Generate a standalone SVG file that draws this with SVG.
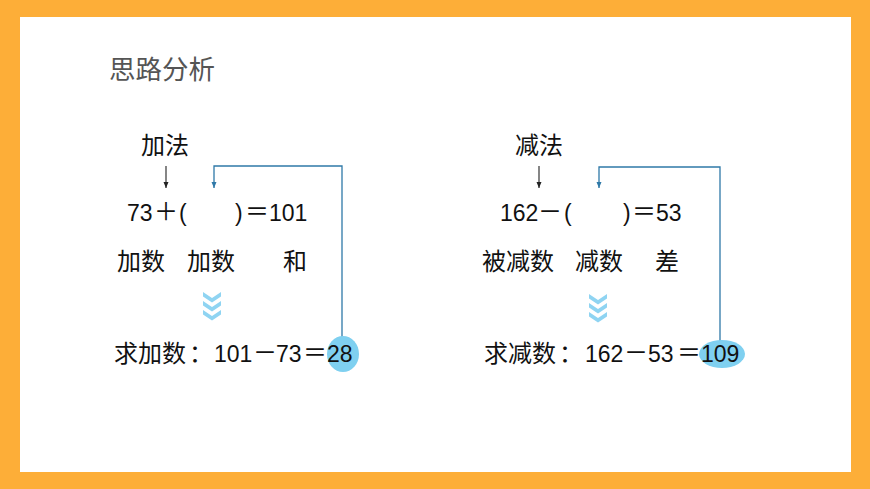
<svg xmlns="http://www.w3.org/2000/svg" width="870" height="489" viewBox="0 0 870 489">
<style>
.cjk{font-family:"Noto Sans CJK SC","Noto Sans",sans-serif;font-size:24px;fill:#111}
.num{font-family:"Liberation Sans",Arial,sans-serif;font-size:23px;fill:#111}
.title{font-family:"Noto Sans CJK SC",sans-serif;font-size:26.5px;fill:#555}
.link{fill:none;stroke:#2f79a8;stroke-width:1.3}
.dn{fill:none;stroke:#222;stroke-width:1.1}
.chev{fill:#8fd4f2}
</style>
<defs>
<marker id="ah" markerWidth="8" markerHeight="8" refX="7" refY="4" orient="auto" markerUnits="userSpaceOnUse" viewBox="0 0 8 8">
<path d="M1,1.5 L7,4 L1,6.5 Z" fill="#2f79a8"/>
</marker>
<marker id="ak" markerWidth="8" markerHeight="8" refX="7" refY="4" orient="auto" markerUnits="userSpaceOnUse" viewBox="0 0 8 8">
<path d="M1,1.5 L7,4 L1,6.5 Z" fill="#222"/>
</marker>
</defs>
<rect x="0" y="0" width="870" height="489" fill="#FDAE38"/>
<rect x="20" y="17" width="831" height="455" fill="#fff"/>
<text class="title" x="109" y="79">思路分析</text>

<g id="connectors">
<path class="link" d="M342,337 V166 H214 V188" marker-end="url(#ah)"/>
<path class="link" d="M720,341 V167 H599 V188" marker-end="url(#ah)"/>
<path class="dn" d="M166,166 V188" marker-end="url(#ak)"/>
<path class="dn" d="M539,166 V188" marker-end="url(#ak)"/>
</g>

<g id="addition">
<text class="cjk" x="141" y="154">加法</text>
<text class="num" y="221"><tspan x="127">73</tspan><tspan x="179">(</tspan><tspan x="235">)</tspan><tspan x="269">101</tspan></text>
<text class="cjk" y="220"><tspan x="154">＋</tspan><tspan x="245">＝</tspan></text>
<text class="cjk" y="270"><tspan x="117">加数</tspan><tspan x="187">加数</tspan><tspan x="283">和</tspan></text>
<g id="chev-left">
<polygon class="chev" points="203,292 212,298 221,292 221,296.5 212,302.5 203,296.5"/>
<polygon class="chev" points="203,301 212,307 221,301 221,305.5 212,311.5 203,305.5"/>
<polygon class="chev" points="203,310 212,316 221,310 221,314.5 212,320.5 203,314.5"/>
</g>
<ellipse cx="343" cy="354" rx="16" ry="18" fill="#7fd0f0"/>
<text class="cjk" y="362"><tspan x="114">求加数</tspan><tspan x="189">：</tspan></text>
<text class="num" y="362"><tspan x="214">101</tspan><tspan x="276">73</tspan><tspan x="327">28</tspan></text>
<text class="cjk" y="361"><tspan x="253">－</tspan><tspan x="303">＝</tspan></text>
</g>

<g id="subtraction">
<text class="cjk" x="515" y="154">减法</text>
<text class="num" y="221"><tspan x="500">162</tspan><tspan x="564">(</tspan><tspan x="623">)</tspan><tspan x="656">53</tspan></text>
<text class="cjk" y="220"><tspan x="538">－</tspan><tspan x="632">＝</tspan></text>
<text class="cjk" y="270"><tspan x="482">被减数</tspan><tspan x="575">减数</tspan><tspan x="655">差</tspan></text>
<g id="chev-right">
<polygon class="chev" points="589,294 598,300 607,294 607,298.5 598,304.5 589,298.5"/>
<polygon class="chev" points="589,303 598,309 607,303 607,307.5 598,313.5 589,307.5"/>
<polygon class="chev" points="589,312 598,318 607,312 607,316.5 598,322.5 589,316.5"/>
</g>
<ellipse cx="722" cy="354" rx="23" ry="14" fill="#7fd0f0"/>
<text class="cjk" y="362"><tspan x="484">求减数</tspan><tspan x="559">：</tspan></text>
<text class="num" y="362"><tspan x="585">162</tspan><tspan x="648">53</tspan><tspan x="701">109</tspan></text>
<text class="cjk" y="361"><tspan x="624">－</tspan><tspan x="677">＝</tspan></text>
</g>
</svg>
